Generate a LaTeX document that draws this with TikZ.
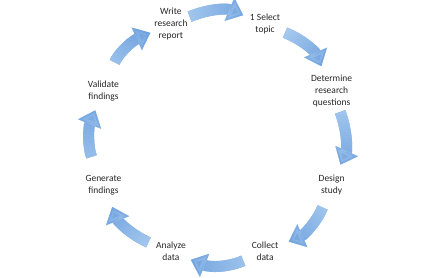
\documentclass[tikz,border=0pt]{standalone}
\usepackage{fontspec}
\setmainfont{Carlito}
\usepackage{tikz}
\usetikzlibrary{arrows.meta, fadings}
\definecolor{arrowBlue}{HTML}{6399DA}
\definecolor{arrowLight}{HTML}{A6C9EF}
\definecolor{textGrey}{HTML}{262626}
\tikzfading[name=tailGlow, left color=transparent!0, right color=transparent!85]

\begin{document}
\begin{tikzpicture}[x=1pt, y=1pt,
    stage/.style={align=center, inner sep=1pt, text=textGrey, font=\fontsize{9.5}{12}\selectfont},
    bigarrow/.style n args={3}{draw=arrowBlue, line width=11pt, -{Triangle[width=24pt, length=15pt]}, shorten <=#1, shorten >=#2,
      postaction={draw=arrowLight, path fading=tailGlow, fading angle=#3}}
  ]
  \useasboundingbox (-218,-140) rectangle (216,138);

  \node[stage] (write) at (112.5:123) {Write\\research\\report};
  \node[stage] (select) at (67.5:123) {1 Select\\topic};
  \node[stage] (determine) at (22.5:123) {Determine\\research\\questions};
  \node[stage] (design) at (-22.5:123) {Design\\study};
  \node[stage] (collect) at (-67.5:123) {Collect\\data};
  \node[stage] (analyze) at (-112.5:123) {Analyze\\data};
  \node[stage] (generate) at (-157.5:124) {Generate\\findings};
  \node[stage] (validate) at (157.5:124) {Validate\\findings};

  \draw[bigarrow={1pt}{6pt}{0}] (write) to[bend left=22.5] (select);
  \draw[bigarrow={4pt}{8pt}{-45}] (select) to[bend left=22.5] (determine);
  \draw[bigarrow={4pt}{10pt}{-90}] (determine) to[bend left=22.5] (design);
  \draw[bigarrow={12pt}{10pt}{-135}] (design) to[bend left=22.5] (collect);
  \draw[bigarrow={8pt}{4pt}{180}] (collect) to[bend left=22.5] (analyze);
  \draw[bigarrow={7pt}{11pt}{135}] (analyze) to[bend left=22.5] (generate);
  \draw[bigarrow={19pt}{9pt}{90}] (generate) to[bend left=22.5] (validate);
  \draw[bigarrow={18pt}{3pt}{45}] (validate) to[bend left=22.5] (write);
\end{tikzpicture}
\end{document}
